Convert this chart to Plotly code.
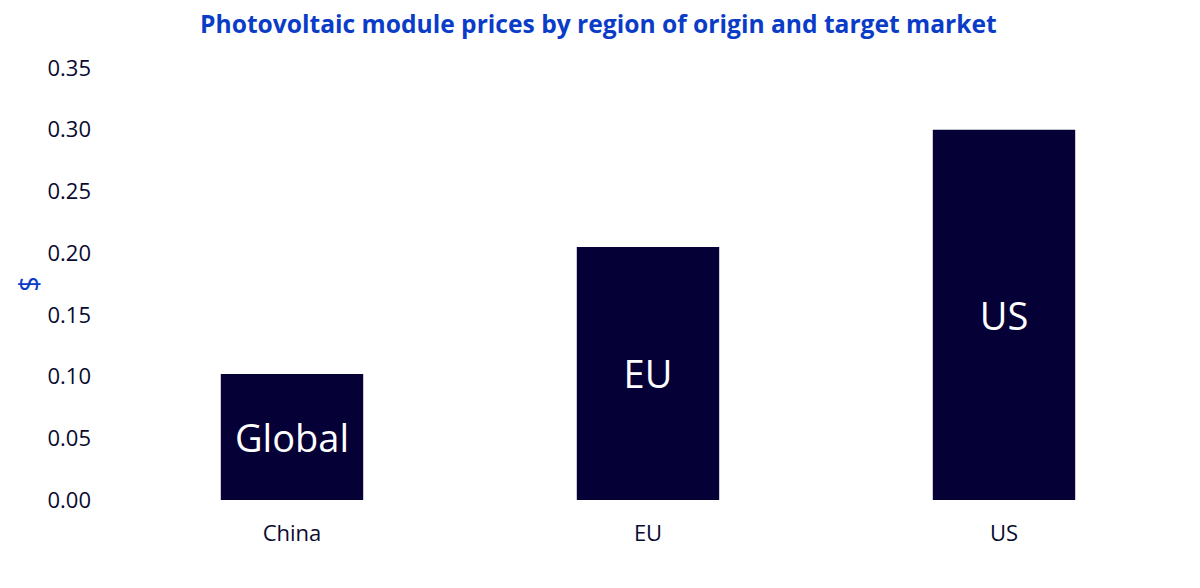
import plotly.graph_objects as go

categories = ["China", "EU", "US"]
prices = [0.102, 0.205, 0.30]
bar_labels = ["Global", "EU", "US"]
y_ticks = [0.00, 0.05, 0.10, 0.15, 0.20, 0.25, 0.30, 0.35]

fig = go.Figure(go.Bar(
    x=categories, y=prices, text=bar_labels,
    textposition="inside", insidetextanchor="middle",
    textfont=dict(family="Open Sans", size=38, color="white"),
    marker=dict(color="#050035", line=dict(width=0)),
    hoverinfo="skip",
))

fig.update_layout(
    width=1200, height=588,
    paper_bgcolor="white", plot_bgcolor="white",
    margin=dict(l=106, r=26, t=60, b=96),
    bargap=0.6,
    showlegend=False,
    title=dict(text="<b>Photovoltaic module prices by region of origin and target market</b>",
               x=0.492, xanchor="center", y=0.972, yanchor="middle",
               font=dict(family="Open Sans", size=24.6, color="#0a3cc8")),
    font=dict(family="Open Sans", color="#0a0a30"),
)
fig.update_xaxes(showline=False, showgrid=False, ticks="",
                 ticklabelstandoff=18,
                 tickfont=dict(size=22, color="#0a0a30"))
fig.update_yaxes(range=[0, 0.35], tickvals=y_ticks, tickformat=".2f",
                 showgrid=False, zeroline=False, showline=False, ticks="",
                 ticklabelstandoff=22,
                 tickfont=dict(size=22, color="#0a0a30"),
                 title=dict(text="$", standoff=0,
                            font=dict(size=27, color="#0a3cc8")))

fig.write_html("out.html")
